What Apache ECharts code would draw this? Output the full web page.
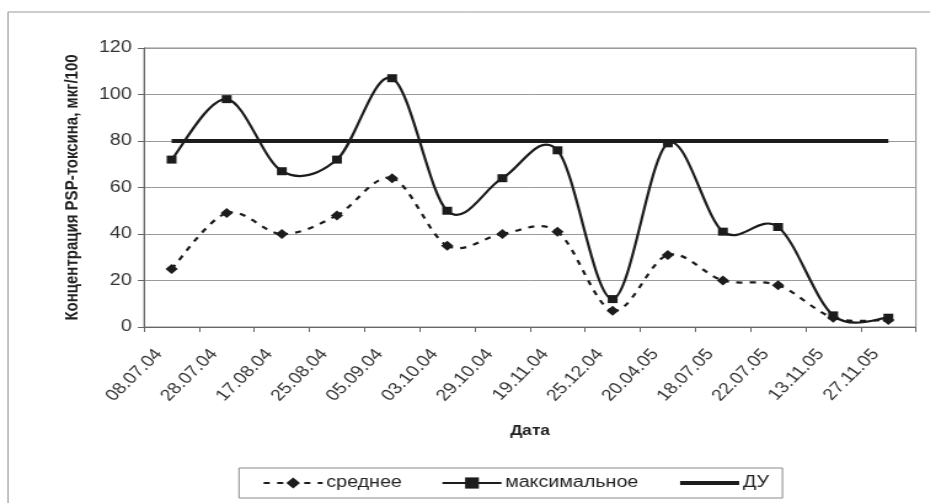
<!DOCTYPE html>
<html>
<head>
<meta charset="utf-8">
<script src="https://cdn.jsdelivr.net/npm/echarts@6/dist/echarts.min.js"></script>
<style>
  html, body { margin: 0; padding: 0; background: #fff; overflow: hidden; }
  #wrap { width: 930px; height: 503px; overflow: hidden; }
  #chart { height: 503px; transform-origin: 0 0; }
</style>
</head>
<body>
<div id="wrap"><div id="chart"></div></div>
<script>
// Sampling dates
const dates = ['08.07.04', '28.07.04', '17.08.04', '25.08.04', '05.09.04', '03.10.04', '29.10.04',
               '19.11.04', '25.12.04', '20.04.05', '18.07.05', '22.07.05', '13.11.05', '27.11.05'];
// Mean PSP toxin concentration
const meanValues = [25, 49, 40, 48, 64, 35, 40, 41, 7, 31, 20, 18, 4, 3];
// Maximum PSP toxin concentration
const maxValues = [72, 98, 67, 72, 107, 50, 64, 76, 12, 79, 41, 43, 5, 4];
// Permissible level (ДУ)
const limitValue = 80;
const limitValues = dates.map(() => limitValue);
// Y axis ticks
const yMin = 0, yMax = 120, yStep = 20;

// The chart is laid out on a narrower canvas and widened horizontally.
const S = 1.23;
const W = 930 / S;
const el = document.getElementById('chart');
el.style.width = W + 'px';
el.style.transform = 'scaleX(' + S + ')';

const FONT = '"Liberation Sans", Arial, sans-serif';
const INK = '#1c1c1c';

// Spreadsheet-style smoothed curve through the points of one series,
// built as cubic Bezier segments in pixel space from api.coord().
function splineRenderer(values, style) {
  return function (params, api) {
    const pts = values.map((v, i) => api.coord([i, v]));
    const n = pts.length;
    const k = 1 / 6;
    const children = [];
    for (let i = 0; i < n - 1; i++) {
      const p0 = pts[Math.max(i - 1, 0)];
      const p1 = pts[i];
      const p2 = pts[i + 1];
      const p3 = pts[Math.min(i + 2, n - 1)];
      children.push({
        type: 'bezierCurve',
        shape: {
          x1: p1[0], y1: p1[1],
          cpx1: p1[0] + (p2[0] - p0[0]) * k, cpy1: p1[1] + (p2[1] - p0[1]) * k,
          cpx2: p2[0] - (p3[0] - p1[0]) * k, cpy2: p2[1] - (p3[1] - p1[1]) * k,
          x2: p2[0], y2: p2[1]
        },
        style: Object.assign({ fill: null, stroke: INK, lineCap: 'butt' }, style)
      });
    }
    return { type: 'group', children: children };
  };
}

const chart = echarts.init(el, null, { renderer: 'canvas' });
chart.setOption({
  backgroundColor: '#fff',
  animation: false,
  textStyle: { fontFamily: FONT, color: '#222' },
  graphic: [{
    type: 'rect',
    shape: { x: 8 / S, y: 12, width: W, height: 520 },
    style: { fill: 'none', stroke: '#9a9a9a', lineWidth: 1 },
    z: 0
  }],
  grid: {
    left: 144 / S,
    right: W - 916 / S,
    top: 48,
    bottom: 503 - 327,
    show: true,
    borderColor: '#8a8a8a',
    borderWidth: 1
  },
  legend: {
    left: 239 / S,
    top: 468,
    orient: 'horizontal',
    itemWidth: 48,
    itemHeight: 14,
    itemGap: 32,
    padding: [7, 11, 7, 19],
    borderColor: '#8a8a8a',
    borderWidth: 1,
    textStyle: { fontFamily: FONT, fontSize: 16, color: '#222', padding: [0, 0, 0, -2] },
    data: [
      { name: 'среднее', lineStyle: { opacity: 1, color: INK, width: 2, type: [5, 6] } },
      { name: 'максимальное', lineStyle: { opacity: 1, color: INK, width: 2, type: 'solid' } },
      { name: 'ДУ', itemStyle: { opacity: 0 }, lineStyle: { opacity: 1, color: INK, width: 4 } }
    ]
  },
  xAxis: {
    type: 'category',
    data: dates,
    boundaryGap: true,
    name: 'Дата',
    nameLocation: 'middle',
    nameGap: 97,
    nameTextStyle: { fontFamily: FONT, fontSize: 14, fontWeight: 'bold', color: '#222' },
    axisLine: { lineStyle: { color: '#666', width: 1 } },
    axisTick: { show: true, length: 5, lineStyle: { color: '#666' } },
    axisLabel: {
      interval: 0,
      rotate: 50,
      margin: 12,
      padding: [0, 16, 0, 0],
      fontFamily: FONT,
      fontSize: 16,
      color: '#333'
    },
    splitLine: { show: false }
  },
  yAxis: {
    type: 'value',
    min: yMin,
    max: yMax,
    interval: yStep,
    name: 'Концентрация PSP-токсина, мкг/100',
    nameLocation: 'middle',
    nameGap: 51,
    nameTextStyle: { fontFamily: FONT, fontSize: 15, fontWeight: 'bold', color: '#222' },
    axisLine: { show: true, lineStyle: { color: '#666', width: 1 } },
    axisTick: { show: true, length: 5, lineStyle: { color: '#666' } },
    axisLabel: { margin: 10, fontFamily: FONT, fontSize: 16, color: '#333' },
    splitLine: { show: true, lineStyle: { color: '#9a9a9a', width: 1 } }
  },
  series: [
    {
      name: 'среднее',
      type: 'line',
      data: meanValues,
      symbol: 'diamond',
      symbolSize: 10,
      itemStyle: { color: INK },
      lineStyle: { color: INK, width: 2, type: [5, 6], opacity: 0 },
      z: 5
    },
    {
      name: 'максимальное',
      type: 'line',
      data: maxValues,
      symbol: 'rect',
      symbolSize: 8,
      itemStyle: { color: INK },
      lineStyle: { color: INK, width: 2, opacity: 0 },
      z: 6
    },
    {
      name: 'ДУ',
      type: 'line',
      data: limitValues,
      symbol: 'none',
      itemStyle: { color: INK },
      lineStyle: { color: INK, width: 4 },
      z: 2
    },
    {
      type: 'custom',
      data: [[0, 0]],
      silent: true,
      clip: false,
      renderItem: splineRenderer(meanValues, { lineWidth: 2.2, lineDash: [5, 6] }),
      z: 3
    },
    {
      type: 'custom',
      data: [[0, 0]],
      silent: true,
      clip: false,
      renderItem: splineRenderer(maxValues, { lineWidth: 2.2 }),
      z: 4
    }
  ]
});
</script>
</body>
</html>
